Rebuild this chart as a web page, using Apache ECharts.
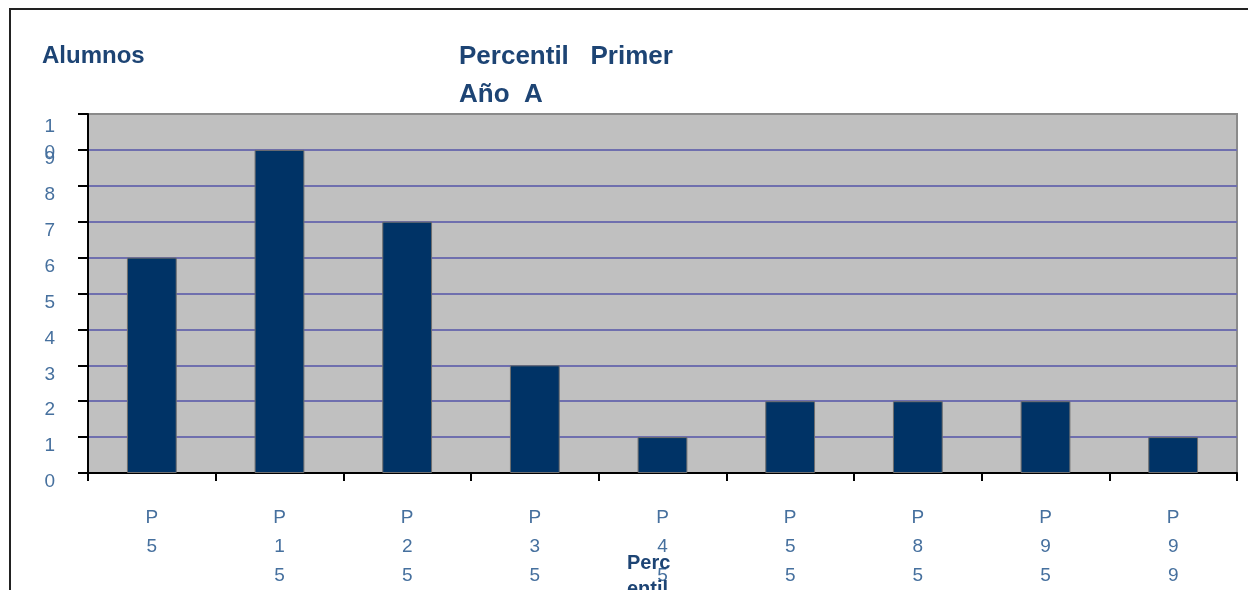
<!DOCTYPE html>
<html>
<head>
<meta charset="utf-8">
<script src="https://cdn.jsdelivr.net/npm/echarts@6/dist/echarts.min.js"></script>
<style>
  html, body { margin: 0; padding: 0; background: #ffffff; }
  #chart { width: 1248px; height: 590px; }
</style>
</head>
<body>
<div id="chart"></div>
<script>
// Percentile groups and number of students in each
const categories = ['P5', 'P15', 'P25', 'P35', 'P45', 'P55', 'P85', 'P95', 'P99'];
const alumnos = [6, 9, 7, 3, 1, 2, 2, 2, 1];
const yTicks = [0, 1, 2, 3, 4, 5, 6, 7, 8, 9, 10];
const Y_MAX = yTicks[yTicks.length - 1];

const FONT = '"Liberation Sans", Arial, sans-serif';
const TITLE_COLOR = '#1d4474';
const LABEL_COLOR = '#46709e';
const GRID_LINE = '#6f6fae';

// one colour per split line: hidden at 0, purple inside, grey frame at the top
const splitColors = yTicks.map((v, i) =>
  i === 0 ? 'rgba(0,0,0,0)' : (i === yTicks.length - 1 ? '#8a8a8a' : GRID_LINE));

const yLabelBase = {
  margin: 33,
  showMinLabel: true, showMaxLabel: true, hideOverlap: false,
  fontFamily: FONT, fontSize: 19, lineHeight: 18, color: LABEL_COLOR,
  verticalAlign: 'top'
};

const chart = echarts.init(document.getElementById('chart'), null, { renderer: 'canvas' });

chart.setOption({
  backgroundColor: '#ffffff',
  animation: false,
  title: [
    {
      text: 'Percentil   Primer\nAño  A',
      left: 459, top: 38, padding: 0,
      textStyle: { fontFamily: FONT, fontWeight: 'bold', fontSize: 26, lineHeight: 38, color: TITLE_COLOR }
    },
    {
      text: 'Alumnos',
      left: 42, top: 37, padding: 0,
      textStyle: { fontFamily: FONT, fontWeight: 'bold', fontSize: 24, lineHeight: 38, color: TITLE_COLOR }
    }
  ],
  grid: {
    left: 88, right: 11, top: 114, bottom: 116,
    show: true, backgroundColor: '#c0c0c0', borderColor: '#8a8a8a', borderWidth: 2
  },
  xAxis: {
    type: 'category',
    data: categories,
    boundaryGap: true,
    axisLine: { lineStyle: { color: '#000000', width: 2 } },
    axisTick: { show: true, length: 8, lineStyle: { color: '#000000', width: 2 } },
    axisLabel: {
      margin: 30,
      interval: 0,
      fontFamily: FONT, fontSize: 19, lineHeight: 29, color: LABEL_COLOR,
      formatter: (v) => v.split('').join('\n')
    },
    splitLine: { show: false }
  },
  yAxis: [
    {
      // main value axis: line, ticks, grid lines and the single-digit labels
      type: 'value',
      min: 0, max: Y_MAX, interval: 1,
      axisLine: { show: true, lineStyle: { color: '#000000', width: 2 } },
      axisTick: { show: true, length: 10, lineStyle: { color: '#000000', width: 2 } },
      axisLabel: Object.assign({}, yLabelBase, {
        formatter: (v) => v >= Y_MAX ? '' : String(v)
      }),
      splitLine: { show: true, lineStyle: { color: splitColors, width: 2 } }
    },
    {
      // twin axis carrying only the wrapped top label, so it may overlap the 9
      type: 'value',
      position: 'left',
      min: 0, max: Y_MAX, interval: 1,
      axisLine: { show: false },
      axisTick: { show: false },
      splitLine: { show: false },
      axisLabel: Object.assign({}, yLabelBase, {
        lineHeight: 26,
        formatter: (v) => v >= Y_MAX ? String(v).split('').join('\n') : ''
      })
    }
  ],
  series: [{
    type: 'bar',
    yAxisIndex: 0,
    data: alumnos,
    barWidth: '39%',
    itemStyle: { color: '#003366', borderColor: '#6e6e6e', borderWidth: 1 }
  }],
  graphic: [
    {
      type: 'rect', silent: true, z: 100,
      shape: { x: 10, y: 9, width: 1300, height: 700 },
      style: { fill: null, stroke: '#222222', lineWidth: 2 }
    },
    {
      type: 'text', silent: true, z: 100,
      left: 627, top: 550,
      style: {
        text: 'Perc\nentil',
        font: 'bold 20px ' + FONT, lineHeight: 26, fill: TITLE_COLOR
      }
    }
  ]
});
</script>
</body>
</html>
